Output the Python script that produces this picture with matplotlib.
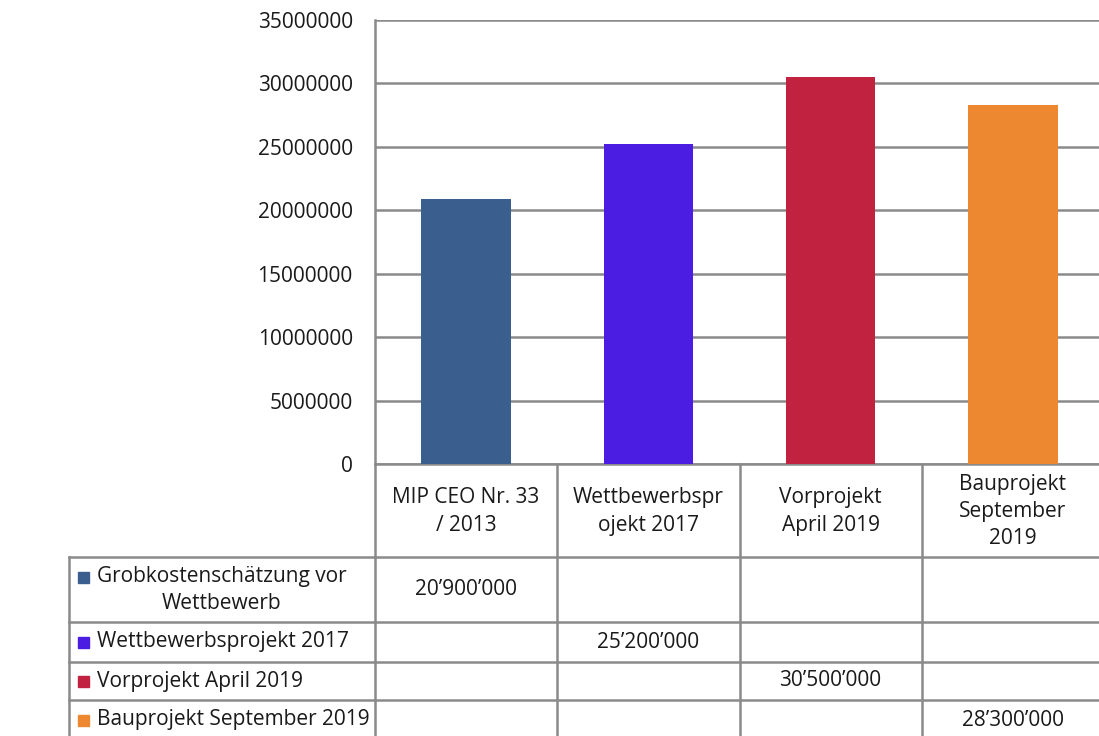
import matplotlib
matplotlib.use("Agg")
import matplotlib.pyplot as plt
from matplotlib.transforms import blended_transform_factory
from matplotlib.lines import Line2D
from matplotlib.patches import Rectangle

# data
categories = ["MIP CEO Nr. 33\n/ 2013", "Wettbewerbspr\nojekt 2017",
              "Vorprojekt\nApril 2019", "Bauprojekt\nSeptember\n2019"]
series_names = ["Grobkostenschätzung vor\nWettbewerb", "Wettbewerbsprojekt 2017",
                "Vorprojekt April 2019", "Bauprojekt September 2019"]
values = [20900000, 25200000, 30500000, 28300000]
colors = ["#3a5f8f", "#4b1de3", "#c1223f", "#ee8830"]
yticks = list(range(0, 35000001, 5000000))

plt.rcParams["font.family"] = ["Open Sans", "DejaVu Sans"]
W, H = 1099, 736
fig = plt.figure(figsize=(W / 100, H / 100), dpi=100)

def fy(py):
    return 1 - py / H

def fx(px):
    return px / W

grid_c = "#8a8a8a"
txt_c = "#1a1a1a"
fs = 15

ax = fig.add_axes([fx(375), fy(464), fx(1104) - fx(375), fy(20) - fy(464)])
x = list(range(len(values)))
ax.bar(x, values, width=0.49, color=colors, zorder=3)
ax.set_xlim(-0.5, len(values) - 0.5)
ax.set_ylim(0, 35000000)
ax.set_yticks(yticks)
ax.set_yticklabels([str(t) for t in yticks], fontsize=fs, color=txt_c)
ax.tick_params(axis="y", length=0, pad=16)
ax.set_xticks([])
ax.grid(axis="y", color=grid_c, linewidth=1.8, zorder=1)
for s in ["top", "right"]:
    ax.spines[s].set_visible(False)
for s in ["left", "bottom"]:
    ax.spines[s].set_color(grid_c)
    ax.spines[s].set_linewidth(1.8)

# data table below the plot
tr = blended_transform_factory(ax.transData, fig.transFigure)
row_edges = [464, 557, 622, 662, 700, 740]
lw = 1.8

def hline(x0, x1, py, transform):
    fig.add_artist(Line2D([x0, x1], [fy(py), fy(py)], color=grid_c, lw=lw, transform=transform))

def vline(xx, py0, py1, transform):
    fig.add_artist(Line2D([xx, xx], [fy(py0), fy(py1)], color=grid_c, lw=lw, transform=transform))

for py in row_edges[1:]:
    hline(-0.5, len(values) - 0.5, py, tr)
    hline(fx(69), fx(375), py, fig.transFigure)
for i in range(len(values) + 1):
    vline(i - 0.5, row_edges[0], row_edges[-1], tr)
vline(fx(69), row_edges[1], row_edges[-1], fig.transFigure)

for i, cat in enumerate(categories):
    fig.text(i, fy((row_edges[0] + row_edges[1]) / 2 + 1), cat, transform=tr,
             ha="center", va="center", fontsize=fs, color=txt_c, linespacing=1.4)

for r, (name, val, col) in enumerate(zip(series_names, values, colors)):
    yc = (row_edges[r + 1] + row_edges[r + 2]) / 2
    label = f"{val:,}".replace(",", "\u2019")
    fig.text(r, fy(yc), label, transform=tr, ha="center", va="center",
             fontsize=fs, color=txt_c)
    if "\n" in name:
        first, second = name.split("\n")
        fig.add_artist(Rectangle((fx(78), fy(yc - 7)), 11 / W, 11 / H,
                                 color=col, transform=fig.transFigure))
        fig.text(fx(97), fy(yc - 13), first, ha="left", va="center",
                 fontsize=fs, color=txt_c)
        fig.text(fx(222), fy(yc + 14), second, ha="center", va="center",
                 fontsize=fs, color=txt_c)
    else:
        fig.add_artist(Rectangle((fx(78), fy(yc + 6)), 11 / W, 11 / H,
                                 color=col, transform=fig.transFigure))
        fig.text(fx(97), fy(yc), name, ha="left", va="center",
                 fontsize=fs, color=txt_c)

fig.savefig("out.png", dpi=100)
